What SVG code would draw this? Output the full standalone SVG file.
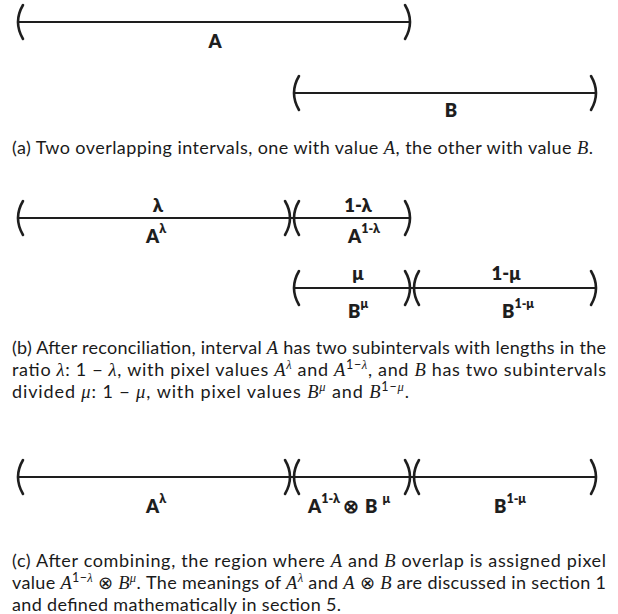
<svg xmlns="http://www.w3.org/2000/svg" width="618" height="614" viewBox="0 0 618 614">
<defs>
<style>
.ln{stroke:#1e1e1e;stroke-width:2.2;fill:none}
.pr{stroke:#1e1e1e;stroke-width:2.6;fill:none;stroke-linecap:round}
.lb{font-family:Lato,"Open Sans",sans-serif;font-weight:800;font-size:18.5px;fill:#1e1e1e}
.sp{font-size:12.5px}
.cap{font-family:Lato,"Noto Sans",sans-serif;font-size:18px;fill:#1a1a1a}
.m{font-family:"Liberation Serif","DejaVu Serif",serif;font-style:italic;font-size:18.5px}
.ms{font-family:"Liberation Serif","DejaVu Serif",serif;font-style:italic;font-size:12.5px}
.ns{font-size:12.5px}
</style>
<path id="lp" d="M5,-17 Q-5,0 5,17"/>
<path id="rp" d="M-5,-17 Q5,0 -5,17"/>
</defs>

<g id="connectors">
<line class="ln" x1="18" y1="22" x2="410" y2="22"/>
<line class="ln" x1="294" y1="93" x2="596" y2="93"/>
<line class="ln" x1="18" y1="218" x2="410" y2="218"/>
<line class="ln" x1="294" y1="288" x2="596" y2="288"/>
<line class="ln" x1="18" y1="477" x2="596" y2="477"/>
</g>

<g id="intervalA">
<use href="#lp" class="pr" x="18" y="22"/>
<use href="#rp" class="pr" x="410" y="22"/>
<text class="lb" x="215" y="48" text-anchor="middle">A</text>
</g>
<g id="intervalB">
<use href="#lp" class="pr" x="294" y="93"/>
<use href="#rp" class="pr" x="596" y="93"/>
<text class="lb" x="451" y="117" text-anchor="middle">B</text>
</g>
<g id="captionA">
<text class="cap" x="12" y="154" textLength="581" lengthAdjust="spacing">(a) Two overlapping intervals, one with value <tspan class="m">A</tspan>, the other with value <tspan class="m">B</tspan>.</text>
</g>

<g id="subA1">
<use href="#lp" class="pr" x="18" y="218"/>
<use href="#rp" class="pr" x="290" y="218"/>
<text class="lb" x="158" y="212" text-anchor="middle">λ</text>
<text class="lb" x="146" y="243">A<tspan class="sp" dy="-10">λ</tspan></text>
</g>
<g id="subA2">
<use href="#lp" class="pr" x="294" y="218"/>
<use href="#rp" class="pr" x="410" y="218"/>
<text class="lb" x="358" y="212" text-anchor="middle">1-λ</text>
<text class="lb" x="348" y="243">A<tspan class="sp" dy="-10">1-λ</tspan></text>
</g>
<g id="subB1">
<use href="#lp" class="pr" x="294" y="288"/>
<use href="#rp" class="pr" x="410" y="288"/>
<text class="lb" x="358" y="280" text-anchor="middle">μ</text>
<text class="lb" x="348" y="318">B<tspan class="sp" dy="-10">μ</tspan></text>
</g>
<g id="subB2">
<use href="#lp" class="pr" x="414" y="288"/>
<use href="#rp" class="pr" x="596" y="288"/>
<text class="lb" x="506" y="280" text-anchor="middle">1-μ</text>
<text class="lb" x="502" y="318">B<tspan class="sp" dy="-10">1-μ</tspan></text>
</g>
<g id="captionB">
<text class="cap" x="12" y="354" textLength="594" lengthAdjust="spacing">(b) After reconciliation, interval <tspan class="m">A</tspan> has two subintervals with lengths in the</text>
<text class="cap" x="12" y="376" textLength="594" lengthAdjust="spacing">ratio <tspan class="m">λ</tspan>: 1 − <tspan class="m">λ</tspan>, with pixel values <tspan class="m">A</tspan><tspan class="ms" dy="-7">λ</tspan><tspan dy="7"> and </tspan><tspan class="m">A</tspan><tspan class="ns" dy="-7">1−</tspan><tspan class="ms">λ</tspan><tspan dy="7">, and </tspan><tspan class="m">B</tspan> has two subintervals</text>
<text class="cap" x="12" y="398" textLength="397" lengthAdjust="spacing">divided <tspan class="m">μ</tspan>: 1 − <tspan class="m">μ</tspan>, with pixel values <tspan class="m">B</tspan><tspan class="ms" dy="-7">μ</tspan><tspan dy="7"> and </tspan><tspan class="m">B</tspan><tspan class="ns" dy="-7">1−</tspan><tspan class="ms">μ</tspan><tspan dy="7">.</tspan></text>
</g>

<g id="segC1">
<use href="#lp" class="pr" x="18" y="477"/>
<use href="#rp" class="pr" x="290" y="477"/>
<text class="lb" x="146" y="513">A<tspan class="sp" dy="-10">λ</tspan></text>
</g>
<g id="segC2">
<use href="#lp" class="pr" x="294" y="477"/>
<use href="#rp" class="pr" x="410" y="477"/>
<text class="lb" x="308" y="513">A<tspan class="sp" dy="-10">1-λ</tspan><tspan dx="3" dy="10">⊗</tspan><tspan dx="6">B</tspan><tspan class="sp" dx="5" dy="-10">μ</tspan></text>
</g>
<g id="segC3">
<use href="#lp" class="pr" x="414" y="477"/>
<use href="#rp" class="pr" x="596" y="477"/>
<text class="lb" x="494" y="513">B<tspan class="sp" dy="-10">1-μ</tspan></text>
</g>
<g id="captionC">
<text class="cap" x="12" y="567" textLength="594" lengthAdjust="spacing">(c) After combining, the region where <tspan class="m">A</tspan> and <tspan class="m">B</tspan> overlap is assigned pixel</text>
<text class="cap" x="12" y="589" textLength="594" lengthAdjust="spacing">value <tspan class="m">A</tspan><tspan class="ns" dy="-7">1−</tspan><tspan class="ms">λ</tspan><tspan dy="7"> ⊗ </tspan><tspan class="m">B</tspan><tspan class="ms" dy="-7">μ</tspan><tspan dy="7">. The meanings of </tspan><tspan class="m">A</tspan><tspan class="ms" dy="-7">λ</tspan><tspan dy="7"> and </tspan><tspan class="m">A</tspan> ⊗ <tspan class="m">B</tspan> are discussed in section 1</text>
<text class="cap" x="12" y="611" textLength="329" lengthAdjust="spacing">and defined mathematically in section 5.</text>
</g>
</svg>
